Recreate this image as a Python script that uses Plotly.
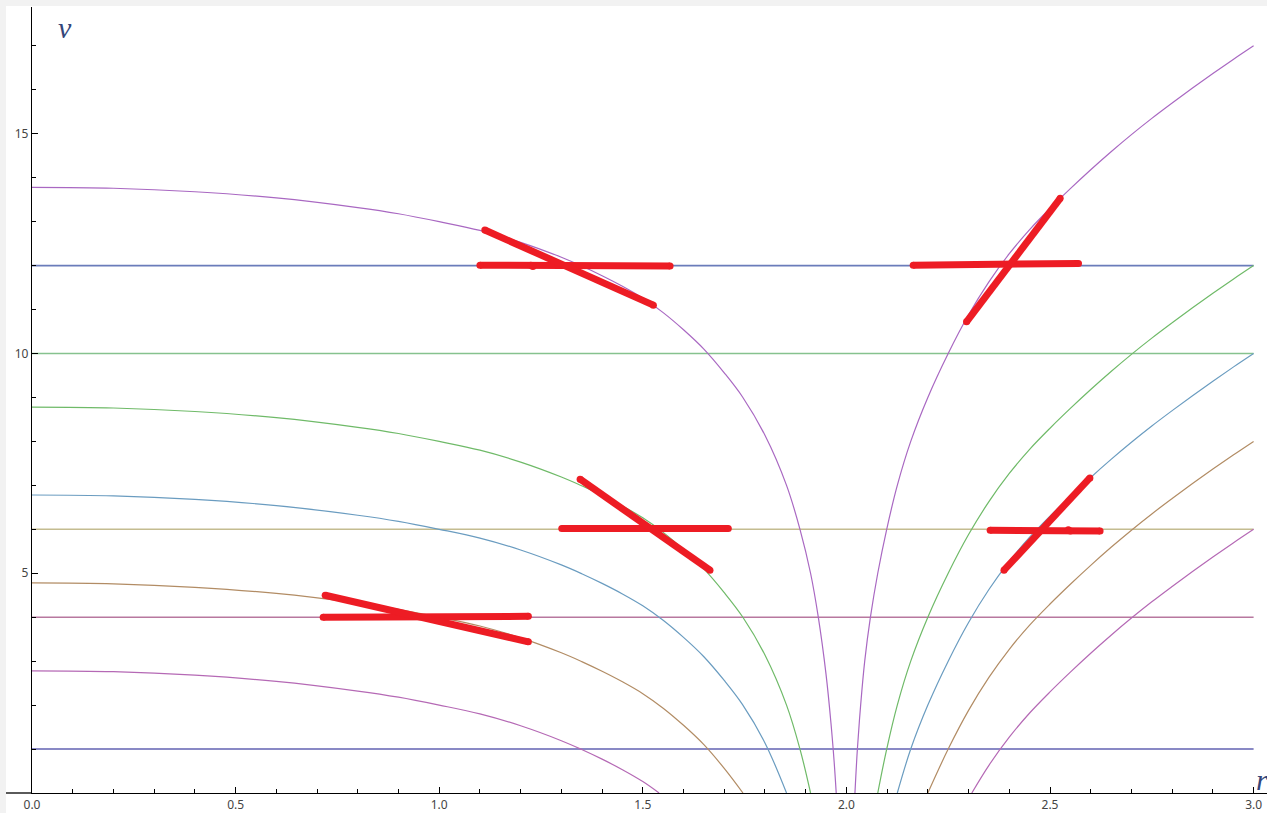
import plotly.graph_objects as go

# ---------------- data ----------------
x_tick_vals = [0.0, 0.5, 1.0, 1.5, 2.0, 2.5, 3.0]
x_tick_text = ["0.0", "0.5", "1.0", "1.5", "2.0", "2.5", "3.0"]
y_tick_vals = [5, 10, 15]
y_tick_text = ["5", "10", "15"]

# horizontal reference lines v = const over r in [0, 3]
h_levels = [1, 4, 6, 10, 12]
h_r = [0.0, 3.0]
h_colors = ["#6262b2", "#b8789f", "#c4bc90", "#86c28e", "#6a7cba"]

# left branches (decreasing towards r ~ 2)
A_left_r = [0.0, 0.2, 0.4, 0.6, 0.8, 0.9, 1.0, 1.1, 1.2, 1.3, 1.35, 1.4, 1.45, 1.5, 1.54]
A_left_v = [2.78, 2.76, 2.68, 2.54, 2.32, 2.18, 2.0, 1.80, 1.53, 1.19, 0.99, 0.77, 0.53, 0.26, 0.0]
B_left_r = [0.0, 0.2, 0.4, 0.6, 0.8, 0.9, 1.0, 1.1, 1.2, 1.3, 1.35, 1.4, 1.45, 1.5, 1.55, 1.6, 1.65, 1.7, 1.746]
B_left_v = [4.78, 4.76, 4.68, 4.54, 4.32, 4.18, 4.0, 3.80, 3.53, 3.19, 2.99, 2.77, 2.53, 2.26, 1.93, 1.54, 1.10, 0.56, 0.0]
C_left_r = [0.0, 0.2, 0.4, 0.6, 0.8, 0.9, 1.0, 1.1, 1.2, 1.3, 1.35, 1.4, 1.45, 1.5, 1.55, 1.6, 1.65, 1.7, 1.745, 1.8, 1.853]
C_left_v = [6.78, 6.76, 6.68, 6.54, 6.32, 6.18, 6.0, 5.80, 5.53, 5.19, 4.99, 4.77, 4.53, 4.26, 3.93, 3.54, 3.10, 2.56, 2.01, 1.14, 0.0]
D_left_r = [0.0, 0.2, 0.4, 0.6, 0.8, 0.9, 1.0, 1.1, 1.2, 1.3, 1.35, 1.4, 1.45, 1.5, 1.55, 1.6, 1.65, 1.7, 1.745, 1.8, 1.853, 1.886, 1.912]
D_left_v = [8.78, 8.76, 8.68, 8.54, 8.32, 8.18, 8.0, 7.80, 7.53, 7.19, 6.99, 6.77, 6.53, 6.26, 5.93, 5.54, 5.10, 4.56, 4.01, 3.14, 2.0, 1.0, 0.0]
E_left_r = [0.0, 0.2, 0.4, 0.6, 0.8, 0.9, 1.0, 1.1, 1.2, 1.3, 1.35, 1.4, 1.45, 1.5, 1.55, 1.6, 1.65, 1.7, 1.745, 1.8, 1.853, 1.886, 1.912, 1.931, 1.95, 1.962, 1.97, 1.975]
E_left_v = [13.78, 13.76, 13.68, 13.54, 13.32, 13.18, 13.0, 12.80, 12.53, 12.19, 11.99, 11.77, 11.53, 11.26, 10.93, 10.54, 10.10, 9.56, 9.01, 8.14, 7.0, 6.0, 5.0, 4.0, 2.7, 1.6, 0.7, 0.0]

# right branches (increasing from r ~ 2)
A_right_r = [2.308, 2.35, 2.40, 2.45, 2.50, 2.55, 2.60, 2.65, 2.70, 2.75, 2.80, 2.85, 2.90, 2.95, 3.0]
A_right_v = [0.0, 0.63, 1.27, 1.82, 2.30, 2.75, 3.18, 3.59, 3.98, 4.35, 4.70, 5.04, 5.37, 5.69, 6.0]
B_right_r = [2.20, 2.25, 2.30, 2.35, 2.40, 2.45, 2.50, 2.55, 2.60, 2.65, 2.70, 2.75, 2.80, 2.85, 2.90, 2.95, 3.0]
B_right_v = [0.0, 1.0, 1.88, 2.63, 3.27, 3.82, 4.30, 4.75, 5.18, 5.59, 5.98, 6.35, 6.70, 7.04, 7.37, 7.69, 8.0]
C_right_r = [2.125, 2.158, 2.20, 2.25, 2.30, 2.35, 2.40, 2.45, 2.50, 2.55, 2.60, 2.65, 2.70, 2.75, 2.80, 2.85, 2.90, 2.95, 3.0]
C_right_v = [0.0, 1.0, 2.0, 3.0, 3.88, 4.63, 5.27, 5.82, 6.30, 6.75, 7.18, 7.59, 7.98, 8.35, 8.70, 9.04, 9.37, 9.69, 10.0]
D_right_r = [2.077, 2.099, 2.125, 2.158, 2.20, 2.25, 2.30, 2.35, 2.40, 2.45, 2.50, 2.55, 2.60, 2.65, 2.70, 2.75, 2.80, 2.85, 2.90, 2.95, 3.0]
D_right_v = [0.0, 1.0, 2.0, 3.0, 4.0, 5.0, 5.88, 6.63, 7.27, 7.82, 8.30, 8.75, 9.18, 9.59, 9.98, 10.35, 10.70, 11.04, 11.37, 11.69, 12.0]
E_right_r = [2.021, 2.027, 2.035, 2.045, 2.059, 2.077, 2.099, 2.125, 2.158, 2.20, 2.25, 2.30, 2.35, 2.40, 2.45, 2.50, 2.55, 2.60, 2.65, 2.70, 2.75, 2.80, 2.85, 2.90, 2.95, 3.0]
E_right_v = [0.0, 1.0, 2.0, 3.0, 4.0, 5.0, 6.0, 7.0, 8.0, 9.0, 10.0, 10.88, 11.63, 12.27, 12.82, 13.30, 13.75, 14.18, 14.59, 14.98, 15.35, 15.70, 16.04, 16.37, 16.69, 17.0]

curve_colors = {"A": "#b569b5", "B": "#b28c64", "C": "#6a9cc0", "D": "#6fba68", "E": "#a968c2"}

# red hand-drawn strokes (r, v)
red_strokes = [
    ([1.100, 1.225, 1.230, 1.567], [12.01, 12.01, 11.98, 11.99]),
    ([1.112, 1.526], [12.81, 11.10]),
    ([2.164, 2.570], [12.01, 12.05]),
    ([2.295, 2.525], [10.72, 13.53]),
    ([1.301, 1.710], [6.02, 6.02]),
    ([1.346, 1.665], [7.14, 5.07]),
    ([2.353, 2.545, 2.550, 2.623], [5.98, 5.99, 5.96, 5.96]),
    ([2.387, 2.598], [5.07, 7.17]),
    ([0.715, 1.219], [4.00, 4.02]),
    ([0.720, 1.219], [4.50, 3.44]),
]
red_color = "#ed1c24"

# ---------------- figure ----------------
fig = go.Figure()

for lvl, col in zip(h_levels, h_colors):
    fig.add_trace(go.Scatter(x=h_r, y=[lvl, lvl], mode="lines",
                             line=dict(color=col, width=1.6), hoverinfo="skip"))

curves = [
    ("A", A_left_r, A_left_v), ("B", B_left_r, B_left_v), ("C", C_left_r, C_left_v),
    ("D", D_left_r, D_left_v), ("E", E_left_r, E_left_v),
    ("A", A_right_r, A_right_v), ("B", B_right_r, B_right_v), ("C", C_right_r, C_right_v),
    ("D", D_right_r, D_right_v), ("E", E_right_r, E_right_v),
]
for key, rr, vv in curves:
    fig.add_trace(go.Scatter(x=rr, y=vv, mode="lines",
                             line=dict(color=curve_colors[key], width=1.2, shape="spline", smoothing=1.0),
                             hoverinfo="skip"))

for rr, vv in red_strokes:
    fig.add_trace(go.Scatter(x=rr, y=vv, mode="lines+markers",
                             line=dict(color=red_color, width=7),
                             marker=dict(color=red_color, size=7),
                             hoverinfo="skip"))

W, H = 1267, 813
L, R, T, B = 32, 0, 7, 20
pw, ph = W - L - R, H - T - B
x_max = pw / 407.2
y_max = ph / 43.95

fig.update_layout(
    width=W, height=H,
    margin=dict(l=L, r=R, t=T, b=B, pad=0),
    paper_bgcolor="white", plot_bgcolor="white",
    showlegend=False,
    font=dict(family="Noto Sans, Open Sans, sans-serif", size=12, color="#333333"),
    xaxis=dict(range=[0, x_max], showgrid=False, zeroline=False,
               showline=True, linecolor="black", linewidth=1.3,
               tickmode="array", tickvals=x_tick_vals, ticktext=x_tick_text,
               ticks="inside", ticklen=6, tickwidth=1, tickcolor="black",
               minor=dict(ticks="inside", ticklen=3.5, tickwidth=1, tickcolor="black",
                          dtick=0.1, tick0=0, showgrid=False),
               tickfont=dict(size=12, color="#444444")),
    yaxis=dict(range=[0, y_max], showgrid=False, zeroline=False,
               showline=True, linecolor="black", linewidth=1.3,
               tickmode="array", tickvals=y_tick_vals, ticktext=y_tick_text,
               ticks="inside", ticklen=6, tickwidth=1, tickcolor="black",
               minor=dict(ticks="inside", ticklen=3.5, tickwidth=1, tickcolor="black",
                          dtick=1, tick0=0, showgrid=False),
               tickfont=dict(size=12, color="#444444")),
)

# light gray screenshot border (top and left) and x-axis extension left of origin
px = 1.0 / pw
py = 1.0 / ph
fig.add_shape(type="rect", xref="paper", yref="paper",
              x0=-L * px, x1=(-L + 6) * px, y0=-B * py, y1=1 + T * py,
              fillcolor="#f2f2f2", line=dict(width=0), layer="above")
fig.add_shape(type="rect", xref="paper", yref="paper",
              x0=-L * px, x1=1, y0=1 + 1 * py, y1=1 + T * py,
              fillcolor="#f2f2f2", line=dict(width=0), layer="above")
fig.add_shape(type="line", xref="paper", yref="paper",
              x0=(-L + 6) * px, x1=0, y0=0, y1=0,
              line=dict(color="black", width=1.3))

fig.add_annotation(xref="paper", yref="paper", x=(65 - L) * px, y=(H - B - 28) * py,
                   text="<i>v</i>", showarrow=False, xanchor="center", yanchor="middle",
                   font=dict(family="Liberation Serif, DejaVu Serif, serif", size=30, color="#34467a"))
fig.add_annotation(xref="paper", yref="paper", x=(1254 - L) * px, y=(H - B - 779) * py,
                   text="<i>r</i>", showarrow=False, xanchor="left", yanchor="middle",
                   font=dict(family="Liberation Serif, DejaVu Serif, serif", size=30, color="#34467a"))

fig.write_html("out.html",
               config={"displayModeBar": False},
               post_script="document.body.style.margin='0';document.body.style.overflow='hidden';")
